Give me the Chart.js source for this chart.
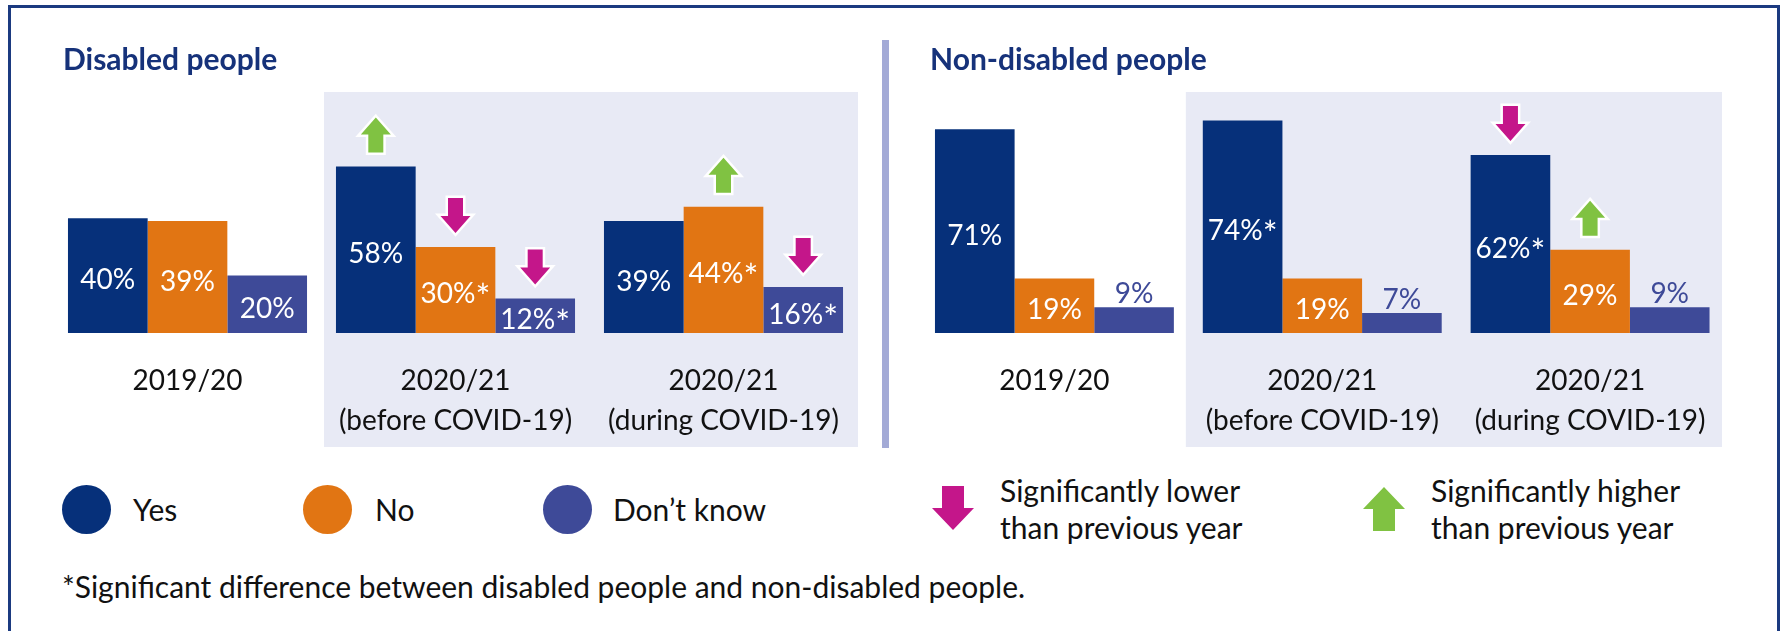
<!DOCTYPE html>
<html>
<head>
<meta charset="utf-8">
<script src="https://cdn.jsdelivr.net/npm/chart.js@4.4.1/dist/chart.umd.min.js"></script>
<style>
  html, body { margin: 0; padding: 0; background: #ffffff; }
  body { width: 1781px; height: 631px; position: relative; overflow: hidden; font-family: Lato, "Open Sans", sans-serif; color: #111111; }
  .frame { position: absolute; left: 8px; top: 5px; width: 1766px; height: 700px; border: 3px solid #1B3A80; box-sizing: content-box; }
  .divider { position: absolute; left: 882px; top: 40px; width: 7px; height: 408px; background: #A3AAD6; }
  canvas { position: absolute; top: 0; }
  #leftChart { left: 0; }
  #rightChart { left: 880px; }
  .txt { position: absolute; font-size: 30px; line-height: 1.2; white-space: nowrap; }
  .dot { position: absolute; width: 49px; height: 49px; border-radius: 50%; top: 485px; }
  .two { line-height: 37px; }
  svg { position: absolute; }
</style>
</head>
<body>
<div class="frame"></div>
<div class="divider"></div>
<canvas id="leftChart" width="880" height="460" style="width:880px;height:460px"></canvas>
<canvas id="rightChart" width="901" height="460" style="width:901px;height:460px"></canvas>

<div class="dot" style="left:62px;background:#06307A"></div>
<div class="txt" style="left:133px;top:491px">Yes</div>
<div class="dot" style="left:303px;background:#E17513"></div>
<div class="txt" style="left:375px;top:491px">No</div>
<div class="dot" style="left:543px;background:#3E4A98"></div>
<div class="txt" style="left:613px;top:491px">Don’t know</div>

<svg style="left:932px;top:486px" width="42" height="44" viewBox="0 0 42 44">
  <polygon points="10,0 32,0 32,22 42,22 21,44 0,22 10,22" fill="#C4168A"/>
</svg>
<div class="txt two" style="left:1000px;top:472px">Significantly lower<br>than previous year</div>
<svg style="left:1363px;top:487px" width="42" height="44" viewBox="0 0 42 44">
  <polygon points="21,0 42,22 32,22 32,44 10,44 10,22 0,22" fill="#80C242"/>
</svg>
<div class="txt two" style="left:1431px;top:472px">Significantly higher<br>than previous year</div>

<div class="txt" style="left:62px;top:568px">*Significant difference between disabled people and non-disabled people.</div>

<script>
// Survey periods (one group of bars each)
const categories = [
  ['2019/20'],
  ['2020/21', '(before COVID-19)'],
  ['2020/21', '(during COVID-19)']
];
const seriesNames = ['Yes', 'No', 'Don’t know'];

// Disabled people, % answering
const disabledYes = [40, 58, 39];
const disabledNo = [39, 30, 44];
const disabledDontKnow = [20, 12, 16];

// Non-disabled people, % answering
const nonDisabledYes = [71, 74, 62];
const nonDisabledNo = [19, 19, 29];
const nonDisabledDontKnow = [9, 7, 9];

// Significant difference between the two groups (asterisk on the label)
const disabledYesStar = [false, false, false];
const disabledNoStar = [false, true, true];
const disabledDontKnowStar = [false, true, true];
const nonDisabledYesStar = [false, true, true];
const nonDisabledNoStar = [false, false, false];
const nonDisabledDontKnowStar = [false, false, false];

// Change against previous year: 1 = significantly higher, -1 = significantly lower
const disabledYesChange = [0, 1, 0];
const disabledNoChange = [0, -1, 1];
const disabledDontKnowChange = [0, -1, -1];
const nonDisabledYesChange = [0, 0, -1];
const nonDisabledNoChange = [0, 0, 1];
const nonDisabledDontKnowChange = [0, 0, 0];

const COLORS = ['#06307A', '#E17513', '#3E4A98'];
const SHADE = '#E8EAF5';
const TITLE_COLOR = '#16327A';
const UP_COLOR = '#80C242';
const DOWN_COLOR = '#C4168A';
const FONT = 'Lato, "Open Sans", sans-serif';
const LABEL_SIZE = 28;

function drawArrow(ctx, cx, bottom, up) {
  // inner arrow 30 wide, 35 tall, outlined in white
  const h = 35, hw = 15, sw = 7.5, headH = 17;
  const top = bottom - h;
  ctx.beginPath();
  if (up) {
    ctx.moveTo(cx, top);
    ctx.lineTo(cx + hw, top + headH);
    ctx.lineTo(cx + sw, top + headH);
    ctx.lineTo(cx + sw, bottom);
    ctx.lineTo(cx - sw, bottom);
    ctx.lineTo(cx - sw, top + headH);
    ctx.lineTo(cx - hw, top + headH);
  } else {
    ctx.moveTo(cx - sw, top);
    ctx.lineTo(cx + sw, top);
    ctx.lineTo(cx + sw, bottom - headH);
    ctx.lineTo(cx + hw, bottom - headH);
    ctx.lineTo(cx, bottom);
    ctx.lineTo(cx - hw, bottom - headH);
    ctx.lineTo(cx - sw, bottom - headH);
  }
  ctx.closePath();
  ctx.lineJoin = 'miter';
  ctx.lineWidth = 5;
  ctx.strokeStyle = '#ffffff';
  ctx.stroke();
  ctx.fillStyle = up ? UP_COLOR : DOWN_COLOR;
  ctx.fill();
}

// Value label centred on x; an optional asterisk is drawn larger and raised to the digit top
function drawValueLabel(ctx, text, star, cx, baseline, color) {
  ctx.textAlign = 'left';
  ctx.textBaseline = 'alphabetic';
  ctx.fillStyle = color;
  ctx.font = LABEL_SIZE + 'px ' + FONT;
  const w1 = ctx.measureText(text).width;
  const digitTop = baseline - ctx.measureText('0').actualBoundingBoxAscent;
  let w2 = 0, starSize = LABEL_SIZE, starAsc = 0;
  if (star) {
    const m0 = ctx.measureText('*');
    const h0 = m0.actualBoundingBoxAscent + m0.actualBoundingBoxDescent;
    starSize = LABEL_SIZE * 12.5 / h0;
    ctx.font = starSize + 'px ' + FONT;
    const m = ctx.measureText('*');
    w2 = m.width;
    starAsc = m.actualBoundingBoxAscent;
  }
  const start = cx - (w1 + w2) / 2;
  ctx.font = LABEL_SIZE + 'px ' + FONT;
  ctx.fillText(text, start, baseline);
  if (star) {
    ctx.font = starSize + 'px ' + FONT;
    ctx.fillText('*', start + w1, digitTop + starAsc);
  }
}

const panelDecor = {
  id: 'panelDecor',
  beforeDatasetsDraw(chart, args, opts) {
    const ctx = chart.ctx, x = chart.scales.x;
    const step = x.getPixelForValue(1) - x.getPixelForValue(0);
    const l = x.getPixelForValue(1) - step / 2 + opts.shadeInset[0];
    const r = x.getPixelForValue(2) + step / 2 + opts.shadeInset[1];
    ctx.save();
    ctx.fillStyle = SHADE;
    ctx.fillRect(l, 92, r - l, 355);
    ctx.restore();
  },
  afterDatasetsDraw(chart, args, opts) {
    const ctx = chart.ctx;
    ctx.save();
    chart.data.datasets.forEach((ds, di) => {
      const meta = chart.getDatasetMeta(di);
      meta.data.forEach((bar, i) => {
        const v = ds.data[i];
        const star = opts.stars[di][i];
        if (v < 10) {
          drawValueLabel(ctx, v + '%', star, bar.x, bar.y - 4, COLORS[di]);
        } else {
          drawValueLabel(ctx, v + '%', star, bar.x, (bar.y + bar.base) / 2 + 13.5, '#ffffff');
        }
        const c = opts.changes[di][i];
        if (c !== 0) drawArrow(ctx, bar.x, bar.y - 14, c > 0);
      });
    });
    ctx.restore();
  },
  afterDraw(chart, args, opts) {
    const ctx = chart.ctx, x = chart.scales.x, bottom = chart.chartArea.bottom;
    ctx.save();
    ctx.fillStyle = '#111111';
    ctx.textAlign = 'center';
    ctx.textBaseline = 'alphabetic';
    ctx.font = '28px ' + FONT;
    chart.data.labels.forEach((lines, i) => {
      const cx = x.getPixelForValue(i);
      lines.forEach((line, li) => ctx.fillText(line, cx, bottom + 57 + li * 40));
    });
    ctx.textAlign = 'left';
    ctx.fillStyle = TITLE_COLOR;
    ctx.font = 'bold 30px ' + FONT;
    ctx.fillText(opts.title, opts.titleX, 70);
    ctx.restore();
  }
};

function makeChart(id, values, stars, changes, title, titleX, padding, shadeInset) {
  return new Chart(document.getElementById(id), {
    type: 'bar',
    data: {
      labels: categories,
      datasets: values.map((d, k) => ({
        label: seriesNames[k],
        data: d,
        backgroundColor: COLORS[k],
        borderWidth: 0,
        categoryPercentage: 0.892,
        barPercentage: 1
      }))
    },
    options: {
      responsive: false,
      animation: false,
      events: [],
      layout: { padding },
      scales: {
        x: { display: false },
        y: { display: false, min: 0, max: 100 }
      },
      plugins: {
        legend: { display: false },
        tooltip: { enabled: false },
        panelDecor: { stars, changes, title, titleX, shadeInset }
      }
    },
    plugins: [panelDecor]
  });
}

makeChart('leftChart',
  [disabledYes, disabledNo, disabledDontKnow],
  [disabledYesStar, disabledNoStar, disabledDontKnowStar],
  [disabledYesChange, disabledNoChange, disabledDontKnowChange],
  'Disabled people', 63,
  { left: 53.5, right: 22.5, top: 46, bottom: 127 }, [2.5, 0.5]);

makeChart('rightChart',
  [nonDisabledYes, nonDisabledNo, nonDisabledDontKnow],
  [nonDisabledYesStar, nonDisabledNoStar, nonDisabledDontKnowStar],
  [nonDisabledYesChange, nonDisabledNoChange, nonDisabledDontKnowChange],
  'Non-disabled people', 50,
  { left: 40.5, right: 57, top: 46, bottom: 127 }, [-2.5, -2]);
</script>
</body>
</html>
